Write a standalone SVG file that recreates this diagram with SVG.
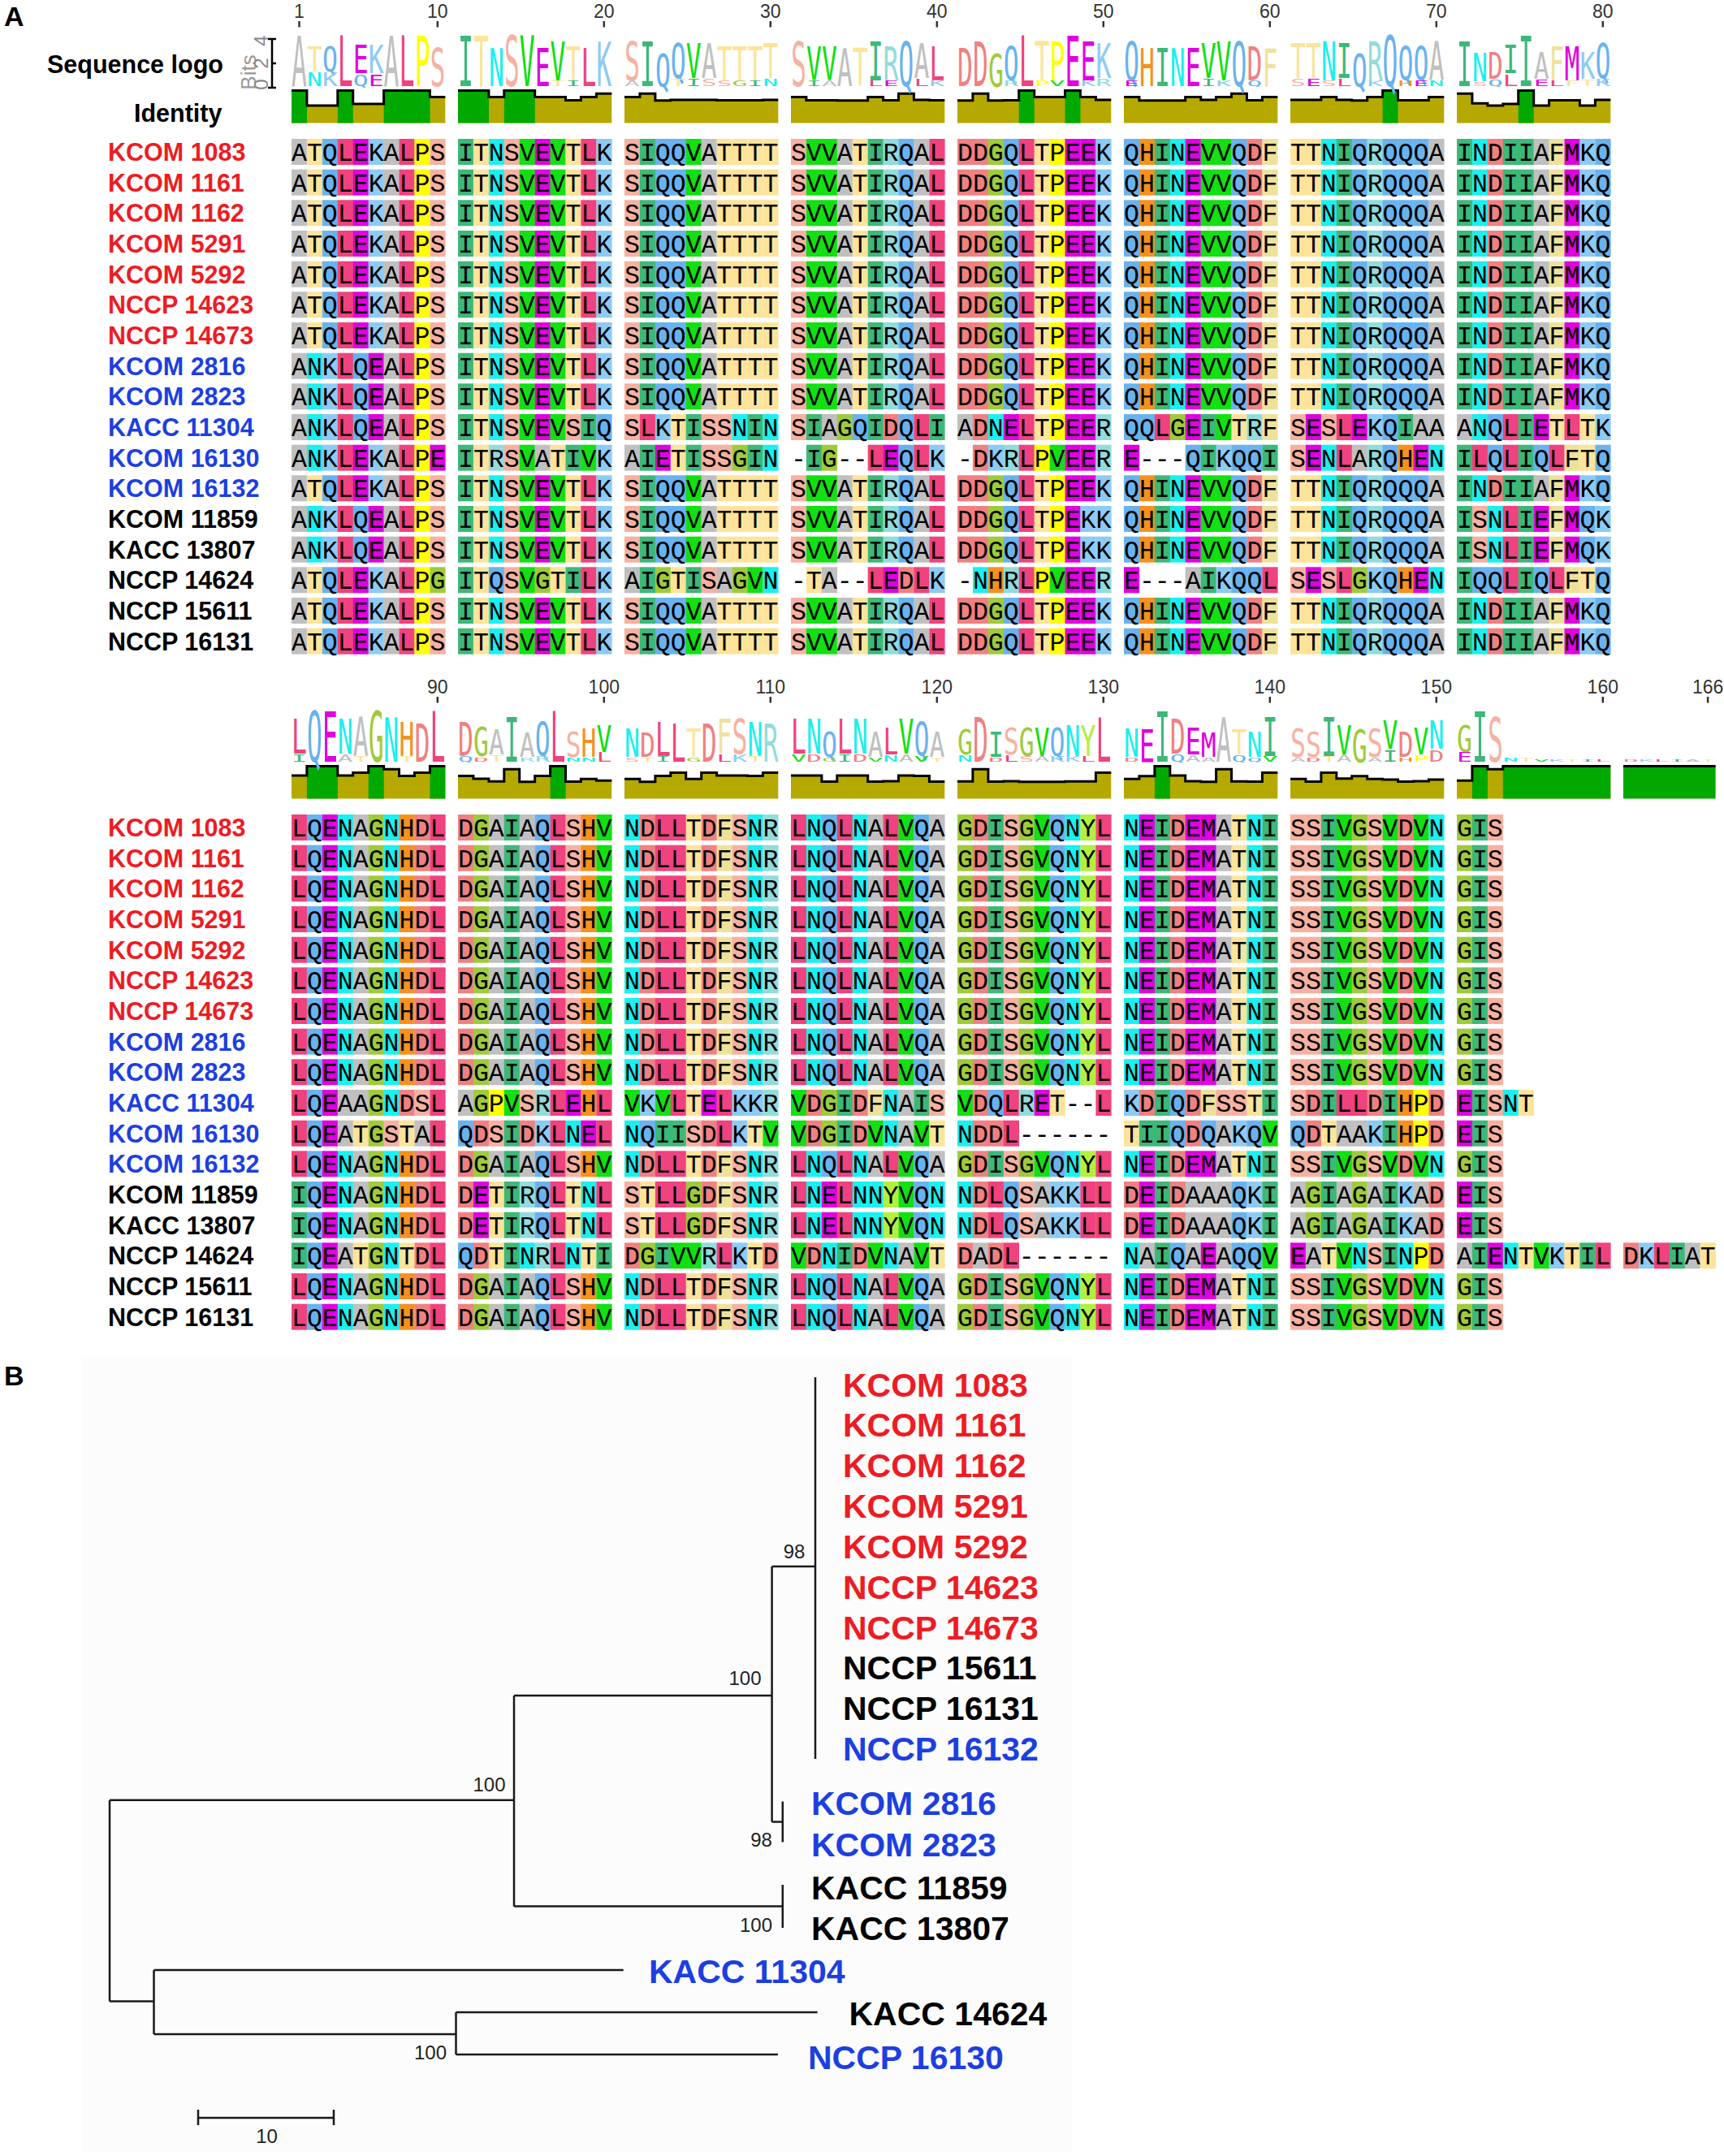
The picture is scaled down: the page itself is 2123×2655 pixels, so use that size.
<svg xmlns="http://www.w3.org/2000/svg" width="2123" height="2655" viewBox="0 0 2123 2655">
<style>
.A{fill:#c0c0c0}.T{fill:#fde49a}.Q{fill:#68b3ef}.L{fill:#f0427e}.E,.M{fill:#e000e0}.K{fill:#8ccbf5}.P{fill:#ffff00}.S{fill:#f7b1a1}.I{fill:#3cb878}.N{fill:#1af0f0}.V{fill:#12e012}.D{fill:#f18080}.G{fill:#9fcb3b}.H{fill:#f5911f}.F{fill:#eee29b}.R{fill:#91dcdc}.Y{fill:#b3f03d}
.A,.T,.Q,.L,.E,.M,.K,.P,.S,.I,.N,.V,.D,.G,.H,.F,.R,.Y{width:19.2px;height:32px}
.sq{font-family:'Liberation Mono','DejaVu Sans Mono',monospace;font-size:31.55px;fill:#000}
.lg text{font-family:'DejaVu Sans Mono',monospace;font-size:100px}
.nm{font-family:'Liberation Sans',Arial,sans-serif;font-weight:bold;font-size:30.5px}
.red{fill:#ed1c24}.blu{fill:#1c3fe0}.blk{fill:#000}
.num{font-family:'Liberation Sans',Arial,sans-serif;font-size:23px;fill:#333;text-anchor:middle}
.tk{stroke:#333;stroke-width:2.5;fill:none}
.ol{fill:#b5a900}.gr{fill:#00a800}.bk{fill:none;stroke:#000;stroke-width:3}
.tr{fill:none;stroke:#1a1a1a;stroke-width:2.5}
.tn{font-family:'Liberation Sans',Arial,sans-serif;font-weight:bold;font-size:41px}
.bs{font-family:'Liberation Sans',Arial,sans-serif;font-size:24px;fill:#222;text-anchor:middle}
.pl{font-family:'Liberation Sans',Arial,sans-serif;font-weight:bold;font-size:34px;fill:#000}
</style>
<rect width="2123" height="2655" fill="#fff"/>
<defs>
<g id="a1"><rect class="A"/><rect class="T" x="18.9"/><rect class="Q" x="37.9"/><rect class="L" x="56.8"/><rect class="E" x="75.7"/><rect class="K" x="94.7"/><rect class="A" x="113.6"/><rect class="L" x="132.5"/><rect class="P" x="151.4"/><rect class="S" x="170.4"/><text class="sq" y="27">ATQLEKALPS</text></g>
<g id="a2"><rect class="I"/><rect class="T" x="18.9"/><rect class="N" x="37.9"/><rect class="S" x="56.8"/><rect class="V" x="75.7"/><rect class="E" x="94.7"/><rect class="V" x="113.6"/><rect class="T" x="132.5"/><rect class="L" x="151.4"/><rect class="K" x="170.4"/><text class="sq" y="27">ITNSVEVTLK</text></g>
<g id="a3"><rect class="S"/><rect class="I" x="18.9"/><rect class="Q" x="37.9"/><rect class="Q" x="56.8"/><rect class="V" x="75.7"/><rect class="A" x="94.7"/><rect class="T" x="113.6"/><rect class="T" x="132.5"/><rect class="T" x="151.4"/><rect class="T" x="170.4"/><text class="sq" y="27">SIQQVATTTT</text></g>
<g id="a4"><rect class="S"/><rect class="V" x="18.9"/><rect class="V" x="37.9"/><rect class="A" x="56.8"/><rect class="T" x="75.7"/><rect class="I" x="94.7"/><rect class="R" x="113.6"/><rect class="Q" x="132.5"/><rect class="A" x="151.4"/><rect class="L" x="170.4"/><text class="sq" y="27">SVVATIRQAL</text></g>
<g id="a5"><rect class="D"/><rect class="D" x="18.9"/><rect class="G" x="37.9"/><rect class="Q" x="56.8"/><rect class="L" x="75.7"/><rect class="T" x="94.7"/><rect class="P" x="113.6"/><rect class="E" x="132.5"/><rect class="E" x="151.4"/><rect class="K" x="170.4"/><text class="sq" y="27">DDGQLTPEEK</text></g>
<g id="a6"><rect class="Q"/><rect class="H" x="18.9"/><rect class="I" x="37.9"/><rect class="N" x="56.8"/><rect class="E" x="75.7"/><rect class="V" x="94.7"/><rect class="V" x="113.6"/><rect class="Q" x="132.5"/><rect class="D" x="151.4"/><rect class="F" x="170.4"/><text class="sq" y="27">QHINEVVQDF</text></g>
<g id="a7"><rect class="T"/><rect class="T" x="18.9"/><rect class="N" x="37.9"/><rect class="I" x="56.8"/><rect class="Q" x="75.7"/><rect class="R" x="94.7"/><rect class="Q" x="113.6"/><rect class="Q" x="132.5"/><rect class="Q" x="151.4"/><rect class="A" x="170.4"/><text class="sq" y="27">TTNIQRQQQA</text></g>
<g id="a8"><rect class="I"/><rect class="N" x="18.9"/><rect class="D" x="37.9"/><rect class="I" x="56.8"/><rect class="I" x="75.7"/><rect class="A" x="94.7"/><rect class="F" x="113.6"/><rect class="M" x="132.5"/><rect class="K" x="151.4"/><rect class="Q" x="170.4"/><text class="sq" y="27">INDIIAFMKQ</text></g>
<g id="b1"><rect class="A"/><rect class="N" x="18.9"/><rect class="K" x="37.9"/><rect class="L" x="56.8"/><rect class="Q" x="75.7"/><rect class="E" x="94.7"/><rect class="A" x="113.6"/><rect class="L" x="132.5"/><rect class="P" x="151.4"/><rect class="S" x="170.4"/><text class="sq" y="27">ANKLQEALPS</text></g>
<g id="w5"><rect class="D"/><rect class="D" x="18.9"/><rect class="G" x="37.9"/><rect class="Q" x="56.8"/><rect class="L" x="75.7"/><rect class="T" x="94.7"/><rect class="P" x="113.6"/><rect class="E" x="132.5"/><rect class="K" x="151.4"/><rect class="K" x="170.4"/><text class="sq" y="27">DDGQLTPEKK</text></g>
<g id="w8"><rect class="I"/><rect class="S" x="18.9"/><rect class="N" x="37.9"/><rect class="L" x="56.8"/><rect class="I" x="75.7"/><rect class="E" x="94.7"/><rect class="F" x="113.6"/><rect class="M" x="132.5"/><rect class="Q" x="151.4"/><rect class="K" x="170.4"/><text class="sq" y="27">ISNLIEFMQK</text></g>
<g id="x2"><rect class="I"/><rect class="T" x="18.9"/><rect class="N" x="37.9"/><rect class="S" x="56.8"/><rect class="V" x="75.7"/><rect class="E" x="94.7"/><rect class="V" x="113.6"/><rect class="S" x="132.5"/><rect class="I" x="151.4"/><rect class="Q" x="170.4"/><text class="sq" y="27">ITNSVEVSIQ</text></g>
<g id="x3"><rect class="S"/><rect class="L" x="18.9"/><rect class="K" x="37.9"/><rect class="T" x="56.8"/><rect class="I" x="75.7"/><rect class="S" x="94.7"/><rect class="S" x="113.6"/><rect class="N" x="132.5"/><rect class="I" x="151.4"/><rect class="N" x="170.4"/><text class="sq" y="27">SLKTISSNIN</text></g>
<g id="x4"><rect class="S"/><rect class="I" x="18.9"/><rect class="A" x="37.9"/><rect class="G" x="56.8"/><rect class="Q" x="75.7"/><rect class="I" x="94.7"/><rect class="D" x="113.6"/><rect class="Q" x="132.5"/><rect class="L" x="151.4"/><rect class="I" x="170.4"/><text class="sq" y="27">SIAGQIDQLI</text></g>
<g id="x5"><rect class="A"/><rect class="D" x="18.9"/><rect class="N" x="37.9"/><rect class="E" x="56.8"/><rect class="L" x="75.7"/><rect class="T" x="94.7"/><rect class="P" x="113.6"/><rect class="E" x="132.5"/><rect class="E" x="151.4"/><rect class="R" x="170.4"/><text class="sq" y="27">ADNELTPEER</text></g>
<g id="x6"><rect class="Q"/><rect class="Q" x="18.9"/><rect class="L" x="37.9"/><rect class="G" x="56.8"/><rect class="E" x="75.7"/><rect class="I" x="94.7"/><rect class="V" x="113.6"/><rect class="T" x="132.5"/><rect class="R" x="151.4"/><rect class="F" x="170.4"/><text class="sq" y="27">QQLGEIVTRF</text></g>
<g id="x7"><rect class="S"/><rect class="E" x="18.9"/><rect class="S" x="37.9"/><rect class="L" x="56.8"/><rect class="E" x="75.7"/><rect class="K" x="94.7"/><rect class="Q" x="113.6"/><rect class="I" x="132.5"/><rect class="A" x="151.4"/><rect class="A" x="170.4"/><text class="sq" y="27">SESLEKQIAA</text></g>
<g id="x8"><rect class="A"/><rect class="N" x="18.9"/><rect class="Q" x="37.9"/><rect class="L" x="56.8"/><rect class="I" x="75.7"/><rect class="E" x="94.7"/><rect class="T" x="113.6"/><rect class="L" x="132.5"/><rect class="T" x="151.4"/><rect class="K" x="170.4"/><text class="sq" y="27">ANQLIETLTK</text></g>
<g id="y1"><rect class="A"/><rect class="N" x="18.9"/><rect class="K" x="37.9"/><rect class="L" x="56.8"/><rect class="E" x="75.7"/><rect class="K" x="94.7"/><rect class="A" x="113.6"/><rect class="L" x="132.5"/><rect class="P" x="151.4"/><rect class="E" x="170.4"/><text class="sq" y="27">ANKLEKALPE</text></g>
<g id="y2"><rect class="I"/><rect class="T" x="18.9"/><rect class="R" x="37.9"/><rect class="S" x="56.8"/><rect class="V" x="75.7"/><rect class="A" x="94.7"/><rect class="T" x="113.6"/><rect class="I" x="132.5"/><rect class="V" x="151.4"/><rect class="K" x="170.4"/><text class="sq" y="27">ITRSVATIVK</text></g>
<g id="y3"><rect class="A"/><rect class="I" x="18.9"/><rect class="E" x="37.9"/><rect class="T" x="56.8"/><rect class="I" x="75.7"/><rect class="S" x="94.7"/><rect class="S" x="113.6"/><rect class="G" x="132.5"/><rect class="I" x="151.4"/><rect class="N" x="170.4"/><text class="sq" y="27">AIETISSGIN</text></g>
<g id="y4"><rect class="I" x="18.9"/><rect class="G" x="37.9"/><rect class="L" x="94.7"/><rect class="E" x="113.6"/><rect class="Q" x="132.5"/><rect class="L" x="151.4"/><rect class="K" x="170.4"/><text class="sq" y="27">-IG--LEQLK</text></g>
<g id="y5"><rect class="D" x="18.9"/><rect class="K" x="37.9"/><rect class="R" x="56.8"/><rect class="L" x="75.7"/><rect class="P" x="94.7"/><rect class="V" x="113.6"/><rect class="E" x="132.5"/><rect class="E" x="151.4"/><rect class="R" x="170.4"/><text class="sq" y="27">-DKRLPVEER</text></g>
<g id="y6"><rect class="E"/><rect class="Q" x="75.7"/><rect class="I" x="94.7"/><rect class="K" x="113.6"/><rect class="Q" x="132.5"/><rect class="Q" x="151.4"/><rect class="I" x="170.4"/><text class="sq" y="27">E---QIKQQI</text></g>
<g id="y7"><rect class="S"/><rect class="E" x="18.9"/><rect class="N" x="37.9"/><rect class="L" x="56.8"/><rect class="A" x="75.7"/><rect class="R" x="94.7"/><rect class="Q" x="113.6"/><rect class="H" x="132.5"/><rect class="E" x="151.4"/><rect class="N" x="170.4"/><text class="sq" y="27">SENLARQHEN</text></g>
<g id="y8"><rect class="I"/><rect class="L" x="18.9"/><rect class="Q" x="37.9"/><rect class="L" x="56.8"/><rect class="I" x="75.7"/><rect class="Q" x="94.7"/><rect class="L" x="113.6"/><rect class="F" x="132.5"/><rect class="T" x="151.4"/><rect class="Q" x="170.4"/><text class="sq" y="27">ILQLIQLFTQ</text></g>
<g id="z1"><rect class="A"/><rect class="T" x="18.9"/><rect class="Q" x="37.9"/><rect class="L" x="56.8"/><rect class="E" x="75.7"/><rect class="K" x="94.7"/><rect class="A" x="113.6"/><rect class="L" x="132.5"/><rect class="P" x="151.4"/><rect class="G" x="170.4"/><text class="sq" y="27">ATQLEKALPG</text></g>
<g id="z2"><rect class="I"/><rect class="T" x="18.9"/><rect class="Q" x="37.9"/><rect class="S" x="56.8"/><rect class="V" x="75.7"/><rect class="G" x="94.7"/><rect class="T" x="113.6"/><rect class="I" x="132.5"/><rect class="L" x="151.4"/><rect class="K" x="170.4"/><text class="sq" y="27">ITQSVGTILK</text></g>
<g id="z3"><rect class="A"/><rect class="I" x="18.9"/><rect class="G" x="37.9"/><rect class="T" x="56.8"/><rect class="I" x="75.7"/><rect class="S" x="94.7"/><rect class="A" x="113.6"/><rect class="G" x="132.5"/><rect class="V" x="151.4"/><rect class="N" x="170.4"/><text class="sq" y="27">AIGTISAGVN</text></g>
<g id="z4"><rect class="T" x="18.9"/><rect class="A" x="37.9"/><rect class="L" x="94.7"/><rect class="E" x="113.6"/><rect class="D" x="132.5"/><rect class="L" x="151.4"/><rect class="K" x="170.4"/><text class="sq" y="27">-TA--LEDLK</text></g>
<g id="z5"><rect class="N" x="18.9"/><rect class="H" x="37.9"/><rect class="R" x="56.8"/><rect class="L" x="75.7"/><rect class="P" x="94.7"/><rect class="V" x="113.6"/><rect class="E" x="132.5"/><rect class="E" x="151.4"/><rect class="R" x="170.4"/><text class="sq" y="27">-NHRLPVEER</text></g>
<g id="z6"><rect class="E"/><rect class="A" x="75.7"/><rect class="I" x="94.7"/><rect class="K" x="113.6"/><rect class="Q" x="132.5"/><rect class="Q" x="151.4"/><rect class="L" x="170.4"/><text class="sq" y="27">E---AIKQQL</text></g>
<g id="z7"><rect class="S"/><rect class="E" x="18.9"/><rect class="S" x="37.9"/><rect class="L" x="56.8"/><rect class="G" x="75.7"/><rect class="K" x="94.7"/><rect class="Q" x="113.6"/><rect class="H" x="132.5"/><rect class="E" x="151.4"/><rect class="N" x="170.4"/><text class="sq" y="27">SESLGKQHEN</text></g>
<g id="z8"><rect class="I"/><rect class="Q" x="18.9"/><rect class="Q" x="37.9"/><rect class="L" x="56.8"/><rect class="I" x="75.7"/><rect class="Q" x="94.7"/><rect class="L" x="113.6"/><rect class="F" x="132.5"/><rect class="T" x="151.4"/><rect class="Q" x="170.4"/><text class="sq" y="27">IQQLIQLFTQ</text></g>
<g id="c1"><rect class="L"/><rect class="Q" x="18.9"/><rect class="E" x="37.9"/><rect class="N" x="56.8"/><rect class="A" x="75.7"/><rect class="G" x="94.7"/><rect class="N" x="113.6"/><rect class="H" x="132.5"/><rect class="D" x="151.4"/><rect class="L" x="170.4"/><text class="sq" y="27">LQENAGNHDL</text></g>
<g id="c2"><rect class="D"/><rect class="G" x="18.9"/><rect class="A" x="37.9"/><rect class="I" x="56.8"/><rect class="A" x="75.7"/><rect class="Q" x="94.7"/><rect class="L" x="113.6"/><rect class="S" x="132.5"/><rect class="H" x="151.4"/><rect class="V" x="170.4"/><text class="sq" y="27">DGAIAQLSHV</text></g>
<g id="c3"><rect class="N"/><rect class="D" x="18.9"/><rect class="L" x="37.9"/><rect class="L" x="56.8"/><rect class="T" x="75.7"/><rect class="D" x="94.7"/><rect class="F" x="113.6"/><rect class="S" x="132.5"/><rect class="N" x="151.4"/><rect class="R" x="170.4"/><text class="sq" y="27">NDLLTDFSNR</text></g>
<g id="c4"><rect class="L"/><rect class="N" x="18.9"/><rect class="Q" x="37.9"/><rect class="L" x="56.8"/><rect class="N" x="75.7"/><rect class="A" x="94.7"/><rect class="L" x="113.6"/><rect class="V" x="132.5"/><rect class="Q" x="151.4"/><rect class="A" x="170.4"/><text class="sq" y="27">LNQLNALVQA</text></g>
<g id="c5"><rect class="G"/><rect class="D" x="18.9"/><rect class="I" x="37.9"/><rect class="S" x="56.8"/><rect class="G" x="75.7"/><rect class="V" x="94.7"/><rect class="Q" x="113.6"/><rect class="N" x="132.5"/><rect class="Y" x="151.4"/><rect class="L" x="170.4"/><text class="sq" y="27">GDISGVQNYL</text></g>
<g id="c6"><rect class="N"/><rect class="E" x="18.9"/><rect class="I" x="37.9"/><rect class="D" x="56.8"/><rect class="E" x="75.7"/><rect class="M" x="94.7"/><rect class="A" x="113.6"/><rect class="T" x="132.5"/><rect class="N" x="151.4"/><rect class="I" x="170.4"/><text class="sq" y="27">NEIDEMATNI</text></g>
<g id="c7"><rect class="S"/><rect class="S" x="18.9"/><rect class="I" x="37.9"/><rect class="V" x="56.8"/><rect class="G" x="75.7"/><rect class="S" x="94.7"/><rect class="V" x="113.6"/><rect class="D" x="132.5"/><rect class="V" x="151.4"/><rect class="N" x="170.4"/><text class="sq" y="27">SSIVGSVDVN</text></g>
<g id="c8"><rect class="G"/><rect class="I" x="18.9"/><rect class="S" x="37.9"/><text class="sq" y="27">GIS</text></g>
<g id="p1"><rect class="L"/><rect class="Q" x="18.9"/><rect class="E" x="37.9"/><rect class="A" x="56.8"/><rect class="A" x="75.7"/><rect class="G" x="94.7"/><rect class="N" x="113.6"/><rect class="D" x="132.5"/><rect class="S" x="151.4"/><rect class="L" x="170.4"/><text class="sq" y="27">LQEAAGNDSL</text></g>
<g id="p2"><rect class="A"/><rect class="G" x="18.9"/><rect class="P" x="37.9"/><rect class="V" x="56.8"/><rect class="S" x="75.7"/><rect class="R" x="94.7"/><rect class="L" x="113.6"/><rect class="E" x="132.5"/><rect class="H" x="151.4"/><rect class="L" x="170.4"/><text class="sq" y="27">AGPVSRLEHL</text></g>
<g id="p3"><rect class="V"/><rect class="K" x="18.9"/><rect class="V" x="37.9"/><rect class="L" x="56.8"/><rect class="T" x="75.7"/><rect class="E" x="94.7"/><rect class="L" x="113.6"/><rect class="K" x="132.5"/><rect class="K" x="151.4"/><rect class="R" x="170.4"/><text class="sq" y="27">VKVLTELKKR</text></g>
<g id="p4"><rect class="V"/><rect class="D" x="18.9"/><rect class="G" x="37.9"/><rect class="I" x="56.8"/><rect class="D" x="75.7"/><rect class="F" x="94.7"/><rect class="N" x="113.6"/><rect class="A" x="132.5"/><rect class="I" x="151.4"/><rect class="S" x="170.4"/><text class="sq" y="27">VDGIDFNAIS</text></g>
<g id="p5"><rect class="V"/><rect class="D" x="18.9"/><rect class="Q" x="37.9"/><rect class="L" x="56.8"/><rect class="R" x="75.7"/><rect class="E" x="94.7"/><rect class="T" x="113.6"/><rect class="L" x="170.4"/><text class="sq" y="27">VDQLRET--L</text></g>
<g id="p6"><rect class="K"/><rect class="D" x="18.9"/><rect class="I" x="37.9"/><rect class="Q" x="56.8"/><rect class="D" x="75.7"/><rect class="F" x="94.7"/><rect class="S" x="113.6"/><rect class="S" x="132.5"/><rect class="T" x="151.4"/><rect class="I" x="170.4"/><text class="sq" y="27">KDIQDFSSTI</text></g>
<g id="p7"><rect class="S"/><rect class="D" x="18.9"/><rect class="I" x="37.9"/><rect class="L" x="56.8"/><rect class="L" x="75.7"/><rect class="D" x="94.7"/><rect class="I" x="113.6"/><rect class="H" x="132.5"/><rect class="P" x="151.4"/><rect class="D" x="170.4"/><text class="sq" y="27">SDILLDIHPD</text></g>
<g id="p8"><rect class="E"/><rect class="I" x="18.9"/><rect class="S" x="37.9"/><rect class="N" x="56.8"/><rect class="T" x="75.7"/><text class="sq" y="27">EISNT</text></g>
<g id="q1"><rect class="L"/><rect class="Q" x="18.9"/><rect class="E" x="37.9"/><rect class="A" x="56.8"/><rect class="T" x="75.7"/><rect class="G" x="94.7"/><rect class="S" x="113.6"/><rect class="T" x="132.5"/><rect class="A" x="151.4"/><rect class="L" x="170.4"/><text class="sq" y="27">LQEATGSTAL</text></g>
<g id="q2"><rect class="Q"/><rect class="D" x="18.9"/><rect class="S" x="37.9"/><rect class="I" x="56.8"/><rect class="D" x="75.7"/><rect class="K" x="94.7"/><rect class="L" x="113.6"/><rect class="N" x="132.5"/><rect class="E" x="151.4"/><rect class="L" x="170.4"/><text class="sq" y="27">QDSIDKLNEL</text></g>
<g id="q3"><rect class="N"/><rect class="Q" x="18.9"/><rect class="I" x="37.9"/><rect class="I" x="56.8"/><rect class="S" x="75.7"/><rect class="D" x="94.7"/><rect class="L" x="113.6"/><rect class="K" x="132.5"/><rect class="T" x="151.4"/><rect class="V" x="170.4"/><text class="sq" y="27">NQIISDLKTV</text></g>
<g id="q4"><rect class="V"/><rect class="D" x="18.9"/><rect class="G" x="37.9"/><rect class="I" x="56.8"/><rect class="D" x="75.7"/><rect class="V" x="94.7"/><rect class="N" x="113.6"/><rect class="A" x="132.5"/><rect class="V" x="151.4"/><rect class="T" x="170.4"/><text class="sq" y="27">VDGIDVNAVT</text></g>
<g id="q5"><rect class="N"/><rect class="D" x="18.9"/><rect class="D" x="37.9"/><rect class="L" x="56.8"/><text class="sq" y="27">NDDL------</text></g>
<g id="q6"><rect class="T"/><rect class="I" x="18.9"/><rect class="I" x="37.9"/><rect class="Q" x="56.8"/><rect class="D" x="75.7"/><rect class="Q" x="94.7"/><rect class="A" x="113.6"/><rect class="K" x="132.5"/><rect class="Q" x="151.4"/><rect class="V" x="170.4"/><text class="sq" y="27">TIIQDQAKQV</text></g>
<g id="q7"><rect class="Q"/><rect class="D" x="18.9"/><rect class="T" x="37.9"/><rect class="A" x="56.8"/><rect class="A" x="75.7"/><rect class="K" x="94.7"/><rect class="I" x="113.6"/><rect class="H" x="132.5"/><rect class="P" x="151.4"/><rect class="D" x="170.4"/><text class="sq" y="27">QDTAAKIHPD</text></g>
<g id="e8"><rect class="E"/><rect class="I" x="18.9"/><rect class="S" x="37.9"/><text class="sq" y="27">EIS</text></g>
<g id="u1"><rect class="I"/><rect class="Q" x="18.9"/><rect class="E" x="37.9"/><rect class="N" x="56.8"/><rect class="A" x="75.7"/><rect class="G" x="94.7"/><rect class="N" x="113.6"/><rect class="H" x="132.5"/><rect class="D" x="151.4"/><rect class="L" x="170.4"/><text class="sq" y="27">IQENAGNHDL</text></g>
<g id="u2"><rect class="D"/><rect class="E" x="18.9"/><rect class="T" x="37.9"/><rect class="I" x="56.8"/><rect class="R" x="75.7"/><rect class="Q" x="94.7"/><rect class="L" x="113.6"/><rect class="T" x="132.5"/><rect class="N" x="151.4"/><rect class="L" x="170.4"/><text class="sq" y="27">DETIRQLTNL</text></g>
<g id="u3"><rect class="S"/><rect class="T" x="18.9"/><rect class="L" x="37.9"/><rect class="L" x="56.8"/><rect class="G" x="75.7"/><rect class="D" x="94.7"/><rect class="F" x="113.6"/><rect class="S" x="132.5"/><rect class="N" x="151.4"/><rect class="R" x="170.4"/><text class="sq" y="27">STLLGDFSNR</text></g>
<g id="u4"><rect class="L"/><rect class="N" x="18.9"/><rect class="E" x="37.9"/><rect class="L" x="56.8"/><rect class="N" x="75.7"/><rect class="N" x="94.7"/><rect class="Y" x="113.6"/><rect class="V" x="132.5"/><rect class="Q" x="151.4"/><rect class="N" x="170.4"/><text class="sq" y="27">LNELNNYVQN</text></g>
<g id="u5"><rect class="N"/><rect class="D" x="18.9"/><rect class="L" x="37.9"/><rect class="Q" x="56.8"/><rect class="S" x="75.7"/><rect class="A" x="94.7"/><rect class="K" x="113.6"/><rect class="K" x="132.5"/><rect class="L" x="151.4"/><rect class="L" x="170.4"/><text class="sq" y="27">NDLQSAKKLL</text></g>
<g id="u6"><rect class="D"/><rect class="E" x="18.9"/><rect class="I" x="37.9"/><rect class="D" x="56.8"/><rect class="A" x="75.7"/><rect class="A" x="94.7"/><rect class="A" x="113.6"/><rect class="Q" x="132.5"/><rect class="K" x="151.4"/><rect class="I" x="170.4"/><text class="sq" y="27">DEIDAAAQKI</text></g>
<g id="u7"><rect class="A"/><rect class="G" x="18.9"/><rect class="I" x="37.9"/><rect class="A" x="56.8"/><rect class="G" x="75.7"/><rect class="A" x="94.7"/><rect class="I" x="113.6"/><rect class="K" x="132.5"/><rect class="A" x="151.4"/><rect class="D" x="170.4"/><text class="sq" y="27">AGIAGAIKAD</text></g>
<g id="t1"><rect class="I"/><rect class="Q" x="18.9"/><rect class="E" x="37.9"/><rect class="A" x="56.8"/><rect class="T" x="75.7"/><rect class="G" x="94.7"/><rect class="N" x="113.6"/><rect class="T" x="132.5"/><rect class="D" x="151.4"/><rect class="L" x="170.4"/><text class="sq" y="27">IQEATGNTDL</text></g>
<g id="t2"><rect class="Q"/><rect class="D" x="18.9"/><rect class="T" x="37.9"/><rect class="I" x="56.8"/><rect class="N" x="75.7"/><rect class="R" x="94.7"/><rect class="L" x="113.6"/><rect class="N" x="132.5"/><rect class="T" x="151.4"/><rect class="I" x="170.4"/><text class="sq" y="27">QDTINRLNTI</text></g>
<g id="t3"><rect class="D"/><rect class="G" x="18.9"/><rect class="I" x="37.9"/><rect class="V" x="56.8"/><rect class="V" x="75.7"/><rect class="R" x="94.7"/><rect class="L" x="113.6"/><rect class="K" x="132.5"/><rect class="T" x="151.4"/><rect class="D" x="170.4"/><text class="sq" y="27">DGIVVRLKTD</text></g>
<g id="t4"><rect class="V"/><rect class="D" x="18.9"/><rect class="N" x="37.9"/><rect class="I" x="56.8"/><rect class="D" x="75.7"/><rect class="V" x="94.7"/><rect class="N" x="113.6"/><rect class="A" x="132.5"/><rect class="V" x="151.4"/><rect class="T" x="170.4"/><text class="sq" y="27">VDNIDVNAVT</text></g>
<g id="t5"><rect class="D"/><rect class="A" x="18.9"/><rect class="D" x="37.9"/><rect class="L" x="56.8"/><text class="sq" y="27">DADL------</text></g>
<g id="t6"><rect class="N"/><rect class="A" x="18.9"/><rect class="I" x="37.9"/><rect class="Q" x="56.8"/><rect class="A" x="75.7"/><rect class="E" x="94.7"/><rect class="A" x="113.6"/><rect class="Q" x="132.5"/><rect class="Q" x="151.4"/><rect class="V" x="170.4"/><text class="sq" y="27">NAIQAEAQQV</text></g>
<g id="t7"><rect class="E"/><rect class="A" x="18.9"/><rect class="T" x="37.9"/><rect class="V" x="56.8"/><rect class="N" x="75.7"/><rect class="S" x="94.7"/><rect class="I" x="113.6"/><rect class="N" x="132.5"/><rect class="P" x="151.4"/><rect class="D" x="170.4"/><text class="sq" y="27">EATVNSINPD</text></g>
<g id="t8"><rect class="A"/><rect class="I" x="18.9"/><rect class="E" x="37.9"/><rect class="N" x="56.8"/><rect class="T" x="75.7"/><rect class="V" x="94.7"/><rect class="K" x="113.6"/><rect class="T" x="132.5"/><rect class="I" x="151.4"/><rect class="L" x="170.4"/><text class="sq" y="27">AIENTVKTIL</text></g>
<g id="t9"><rect class="D"/><rect class="K" x="18.9"/><rect class="L" x="37.9"/><rect class="I" x="56.8"/><rect class="A" x="75.7"/><rect class="T" x="94.7"/><text class="sq" y="27">DKLIAT</text></g>
<g id="R1"><use href="#a1"/><use href="#a2" x="205"/><use href="#a3" x="410"/><use href="#a4" x="615"/><use href="#a5" x="820"/><use href="#a6" x="1025"/><use href="#a7" x="1230"/><use href="#a8" x="1435"/></g>
<g id="V2"><use href="#b1"/><use href="#a2" x="205"/><use href="#a3" x="410"/><use href="#a4" x="615"/><use href="#a5" x="820"/><use href="#a6" x="1025"/><use href="#a7" x="1230"/><use href="#a8" x="1435"/></g>
<g id="X1"><use href="#b1"/><use href="#x2" x="205"/><use href="#x3" x="410"/><use href="#x4" x="615"/><use href="#x5" x="820"/><use href="#x6" x="1025"/><use href="#x7" x="1230"/><use href="#x8" x="1435"/></g>
<g id="Y1"><use href="#y1"/><use href="#y2" x="205"/><use href="#y3" x="410"/><use href="#y4" x="615"/><use href="#y5" x="820"/><use href="#y6" x="1025"/><use href="#y7" x="1230"/><use href="#y8" x="1435"/></g>
<g id="W1"><use href="#b1"/><use href="#a2" x="205"/><use href="#a3" x="410"/><use href="#a4" x="615"/><use href="#w5" x="820"/><use href="#a6" x="1025"/><use href="#a7" x="1230"/><use href="#w8" x="1435"/></g>
<g id="Z1"><use href="#z1"/><use href="#z2" x="205"/><use href="#z3" x="410"/><use href="#z4" x="615"/><use href="#z5" x="820"/><use href="#z6" x="1025"/><use href="#z7" x="1230"/><use href="#z8" x="1435"/></g>
<g id="R2"><use href="#c1"/><use href="#c2" x="205"/><use href="#c3" x="410"/><use href="#c4" x="615"/><use href="#c5" x="820"/><use href="#c6" x="1025"/><use href="#c7" x="1230"/><use href="#c8" x="1435"/></g>
<g id="X2"><use href="#p1"/><use href="#p2" x="205"/><use href="#p3" x="410"/><use href="#p4" x="615"/><use href="#p5" x="820"/><use href="#p6" x="1025"/><use href="#p7" x="1230"/><use href="#p8" x="1435"/></g>
<g id="Y2"><use href="#q1"/><use href="#q2" x="205"/><use href="#q3" x="410"/><use href="#q4" x="615"/><use href="#q5" x="820"/><use href="#q6" x="1025"/><use href="#q7" x="1230"/><use href="#e8" x="1435"/></g>
<g id="W2"><use href="#u1"/><use href="#u2" x="205"/><use href="#u3" x="410"/><use href="#u4" x="615"/><use href="#u5" x="820"/><use href="#u6" x="1025"/><use href="#u7" x="1230"/><use href="#e8" x="1435"/></g>
<g id="Z2"><use href="#t1"/><use href="#t2" x="205"/><use href="#t3" x="410"/><use href="#t4" x="615"/><use href="#t5" x="820"/><use href="#t6" x="1025"/><use href="#t7" x="1230"/><use href="#t8" x="1435"/><use href="#t9" x="1640"/></g>
</defs>

<g id="panelA">
<text class="pl" x="5" y="32">A</text>
<g id="header1">
<text class="nm blk" x="58" y="90">Sequence logo</text>
<text class="nm blk" x="165" y="150">Identity</text>
<text transform="translate(315,89) rotate(-90)" font-family="Liberation Sans, Arial, sans-serif" font-size="26" fill="#999" text-anchor="middle">Bits</text>
<g font-family="Liberation Sans, Arial, sans-serif" font-size="24" fill="#888" text-anchor="middle">
<text transform="translate(330,50) rotate(-90)">4</text>
<text transform="translate(330,78) rotate(-90)">2</text>
<text transform="translate(330,104) rotate(-90)">0</text>
</g>
<path d="M330 48H340M335 48V108M330 108H340M335 78H340" stroke="#000" stroke-width="2.5" fill="none"/>
<g class="num">
<text x="368.5" y="21.5">1</text><text x="538.8" y="21.5">10</text><text x="743.8" y="21.5">20</text><text x="948.8" y="21.5">30</text><text x="1153.8" y="21.5">40</text><text x="1358.8" y="21.5">50</text><text x="1563.8" y="21.5">60</text><text x="1768.8" y="21.5">70</text><text x="1973.8" y="21.5">80</text>
</g>
<path class="tk" d="M368.5 26V33.5M538.8 26V33.5M743.8 26V33.5M948.8 26V33.5M1153.8 26V33.5M1358.8 26V33.5M1563.8 26V33.5M1768.8 26V33.5M1973.8 26V33.5"/>
<g id="ident1">
<g transform="translate(359,0)"><path class="ol" d="M0 151.5V111.5H18.9V129.9H56.8V111.5H75.7V128.1H113.6V111.5H170.4V119.6H189.3V151.5Z"/><rect class="gr" x="0" y="111.5" width="19" height="40"/><rect class="gr" x="56.8" y="111.5" width="19" height="40"/><rect class="gr" x="113.6" y="111.5" width="57" height="40"/><path class="bk" d="M0 111.5H18.9V129.9H56.8V111.5H75.7V128.1H113.6V111.5H170.4V119.6H189.3"/></g>
<g transform="translate(564,0)"><path class="ol" d="M0 151.5V111.5H37.9V119.6H56.8V111.5H94.7V119.6H113.6V119.4H132.5V123.5H151.4V119.6H170.4V115.2H189.3V151.5Z"/><rect class="gr" x="0" y="111.5" width="38" height="40"/><rect class="gr" x="56.8" y="111.5" width="38" height="40"/><path class="bk" d="M0 111.5H37.9V119.6H56.8V111.5H94.7V119.6H113.6V119.4H132.5V123.5H151.4V119.6H170.4V115.2H189.3"/></g>
<g transform="translate(769,0)"><path class="ol" d="M0 151.5V119.4H18.9V115.2H37.9V123.7H56.8V122.9H113.6V123.5H170.4V122.9H189.3V151.5Z"/><path class="bk" d="M0 119.4H18.9V115.2H37.9V123.7H56.8V122.9H113.6V123.5H170.4V122.9H189.3"/></g>
<g transform="translate(974,0)"><path class="ol" d="M0 151.5V119.6H18.9V123.5H56.8V123.7H94.7V119.4H113.6V123.5H132.5V115.2H151.4V122.9H170.4V123.5H189.3V151.5Z"/><path class="bk" d="M0 119.6H18.9V123.5H56.8V123.7H94.7V119.4H113.6V123.5H132.5V115.2H151.4V122.9H170.4V123.5H189.3"/></g>
<g transform="translate(1179,0)"><path class="ol" d="M0 151.5V123.7H18.9V115.2H37.9V123.7H56.8V123.5H75.7V111.5H94.7V119.4H132.5V111.5H151.4V119.4H170.4V122.9H189.3V151.5Z"/><rect class="gr" x="75.7" y="111.5" width="19" height="40"/><rect class="gr" x="132.5" y="111.5" width="19" height="40"/><path class="bk" d="M0 123.7H18.9V115.2H37.9V123.7H56.8V123.5H75.7V111.5H94.7V119.4H132.5V111.5H151.4V119.4H170.4V122.9H189.3"/></g>
<g transform="translate(1384,0)"><path class="ol" d="M0 151.5V119.4H18.9V123.7H75.7V119.6H94.7V122.9H113.6V119.4H132.5V115.2H151.4V123.5H170.4V119.6H189.3V151.5Z"/><path class="bk" d="M0 119.4H18.9V123.7H75.7V119.6H94.7V122.9H113.6V119.4H132.5V115.2H151.4V123.5H170.4V119.6H189.3"/></g>
<g transform="translate(1589,0)"><path class="ol" d="M0 151.5V122.9H37.9V119.4H56.8V122.9H75.7V123.7H94.7V119.4H113.6V111.5H132.5V123.5H170.4V119.4H189.3V151.5Z"/><rect class="gr" x="113.6" y="111.5" width="19" height="40"/><path class="bk" d="M0 122.9H37.9V119.4H56.8V122.9H75.7V123.7H94.7V119.4H113.6V111.5H132.5V123.5H170.4V119.4H189.3"/></g>
<g transform="translate(1794,0)"><path class="ol" d="M0 151.5V115.2H18.9V127.3H37.9V129.9H56.8V128.1H75.7V111.5H94.7V129.9H113.6V123.5H151.4V129.9H170.4V122.9H189.3V151.5Z"/><rect class="gr" x="75.7" y="111.5" width="19" height="40"/><path class="bk" d="M0 115.2H18.9V127.3H37.9V129.9H56.8V128.1H75.7V111.5H94.7V129.9H113.6V123.5H151.4V129.9H170.4V122.9H189.3"/></g>
</g>
<g id="logo1" class="lg">
<g transform="translate(359,0)">
<text class="A" transform="matrix(.3145 0 0 .853 0 105.5)">A</text>
<text class="T" transform="matrix(.3145 0 0 .432 18.9 87.8)">T</text><text class="N" transform="matrix(.3145 0 0 .236 18.9 105.5)">N</text>
<text class="Q" transform="matrix(.3145 0 0 .432 37.9 87.8)">Q</text><text class="K" transform="matrix(.3145 0 0 .236 37.9 105.5)">K</text>
<text class="L" transform="matrix(.3145 0 0 .853 56.8 105.5)">L</text>
<text class="E" transform="matrix(.3145 0 0 .48 75.7 90.4)">E</text><text class="Q" transform="matrix(.3145 0 0 .2 75.7 105.5)">Q</text>
<text class="K" transform="matrix(.3145 0 0 .48 94.7 90.4)">K</text><text class="E" transform="matrix(.3145 0 0 .2 94.7 105.5)">E</text>
<text class="A" transform="matrix(.3145 0 0 .853 113.6 105.5)">A</text>
<text class="L" transform="matrix(.3145 0 0 .853 132.5 105.5)">L</text>
<text class="P" transform="matrix(.3145 0 0 .853 151.4 105.5)">P</text>
<text class="S" transform="matrix(.3145 0 0 .641 170.4 105.5)">S</text>
</g>
<g transform="translate(564,0)">
<text class="I" transform="matrix(.3145 0 0 .853 0 105.5)">I</text>
<text class="T" transform="matrix(.3145 0 0 .853 18.9 105.5)">T</text>
<text class="N" transform="matrix(.3145 0 0 .641 37.9 105.5)">N</text>
<text class="S" transform="matrix(.3145 0 0 .853 56.8 105.5)">S</text>
<text class="V" transform="matrix(.3145 0 0 .853 75.7 105.5)">V</text>
<text class="E" transform="matrix(.3145 0 0 .641 94.7 105.5)">E</text>
<text class="V" transform="matrix(.3145 0 0 .663 113.6 98.6)">V</text><text class="T" transform="matrix(.3145 0 0 .088 113.6 105.5)">T</text>
<text class="T" transform="matrix(.3145 0 0 .568 132.5 99.1)">T</text><text class="I" transform="matrix(.3145 0 0 .081 132.5 105.5)">I</text>
<text class="L" transform="matrix(.3145 0 0 .641 151.4 105.5)">L</text>
<text class="K" transform="matrix(.3145 0 0 .743 170.4 105.5)">K</text>
</g>
<g transform="translate(769,0)">
<text class="S" transform="matrix(.3145 0 0 .663 0 98.6)">S</text><text class="A" transform="matrix(.3145 0 0 .088 0 105.5)">A</text>
<text class="I" transform="matrix(.3145 0 0 .743 18.9 105.5)">I</text>
<text class="Q" transform="matrix(.3145 0 0 .549 37.9 105.5)">Q</text>
<text class="Q" transform="matrix(.3145 0 0 .594 56.8 95.7)">Q</text><text class="T" transform="matrix(.3145 0 0 .128 56.8 105.5)">T</text>
<text class="V" transform="matrix(.3145 0 0 .594 75.7 95.7)">V</text><text class="I" transform="matrix(.3145 0 0 .128 75.7 105.5)">I</text>
<text class="A" transform="matrix(.3145 0 0 .594 94.7 95.7)">A</text><text class="S" transform="matrix(.3145 0 0 .128 94.7 105.5)">S</text>
<text class="T" transform="matrix(.3145 0 0 .568 113.6 99.1)">T</text><text class="S" transform="matrix(.3145 0 0 .081 113.6 105.5)">S</text>
<text class="T" transform="matrix(.3145 0 0 .568 132.5 99.1)">T</text><text class="G" transform="matrix(.3145 0 0 .081 132.5 105.5)">G</text>
<text class="T" transform="matrix(.3145 0 0 .568 151.4 99.1)">T</text><text class="I" transform="matrix(.3145 0 0 .081 151.4 105.5)">I</text>
<text class="T" transform="matrix(.3145 0 0 .594 170.4 95.7)">T</text><text class="N" transform="matrix(.3145 0 0 .128 170.4 105.5)">N</text>
</g>
<g transform="translate(974,0)">
<text class="S" transform="matrix(.3145 0 0 .753 0 105.5)">S</text>
<text class="V" transform="matrix(.3145 0 0 .568 18.9 99.1)">V</text><text class="I" transform="matrix(.3145 0 0 .081 18.9 105.5)">I</text>
<text class="V" transform="matrix(.3145 0 0 .568 37.9 99.1)">V</text><text class="A" transform="matrix(.3145 0 0 .081 37.9 105.5)">A</text>
<text class="A" transform="matrix(.3145 0 0 .646 56.8 105.5)">A</text>
<text class="T" transform="matrix(.3145 0 0 .646 75.7 105.5)">T</text>
<text class="I" transform="matrix(.3145 0 0 .663 94.7 98.6)">I</text><text class="L" transform="matrix(.3145 0 0 .088 94.7 105.5)">L</text>
<text class="R" transform="matrix(.3145 0 0 .568 113.6 99.1)">R</text><text class="E" transform="matrix(.3145 0 0 .081 113.6 105.5)">E</text>
<text class="Q" transform="matrix(.3145 0 0 .743 132.5 105.5)">Q</text>
<text class="A" transform="matrix(.3145 0 0 .594 151.4 95.7)">A</text><text class="L" transform="matrix(.3145 0 0 .128 151.4 105.5)">L</text>
<text class="L" transform="matrix(.3145 0 0 .568 170.4 99.1)">L</text><text class="K" transform="matrix(.3145 0 0 .081 170.4 105.5)">K</text>
</g>
<g transform="translate(1179,0)">
<text class="D" transform="matrix(.3145 0 0 .646 0 105.5)">D</text>
<text class="D" transform="matrix(.3145 0 0 .743 18.9 105.5)">D</text>
<text class="G" transform="matrix(.3145 0 0 .549 37.9 105.5)">G</text>
<text class="Q" transform="matrix(.3145 0 0 .568 56.8 99.1)">Q</text><text class="R" transform="matrix(.3145 0 0 .081 56.8 105.5)">R</text>
<text class="L" transform="matrix(.3145 0 0 .853 75.7 105.5)">L</text>
<text class="T" transform="matrix(.3145 0 0 .663 94.7 98.6)">T</text><text class="P" transform="matrix(.3145 0 0 .088 94.7 105.5)">P</text>
<text class="P" transform="matrix(.3145 0 0 .663 113.6 98.6)">P</text><text class="V" transform="matrix(.3145 0 0 .088 113.6 105.5)">V</text>
<text class="E" transform="matrix(.3145 0 0 .853 132.5 105.5)">E</text>
<text class="E" transform="matrix(.3145 0 0 .663 151.4 98.6)">E</text><text class="K" transform="matrix(.3145 0 0 .088 151.4 105.5)">K</text>
<text class="K" transform="matrix(.3145 0 0 .594 170.4 95.7)">K</text><text class="R" transform="matrix(.3145 0 0 .128 170.4 105.5)">R</text>
</g>
<g transform="translate(1384,0)">
<text class="Q" transform="matrix(.3145 0 0 .663 0 98.6)">Q</text><text class="E" transform="matrix(.3145 0 0 .088 0 105.5)">E</text>
<text class="H" transform="matrix(.3145 0 0 .646 18.9 105.5)">H</text>
<text class="I" transform="matrix(.3145 0 0 .646 37.9 105.5)">I</text>
<text class="N" transform="matrix(.3145 0 0 .646 56.8 105.5)">N</text>
<text class="E" transform="matrix(.3145 0 0 .641 75.7 105.5)">E</text>
<text class="V" transform="matrix(.3145 0 0 .594 94.7 95.7)">V</text><text class="I" transform="matrix(.3145 0 0 .128 94.7 105.5)">I</text>
<text class="V" transform="matrix(.3145 0 0 .663 113.6 98.6)">V</text><text class="K" transform="matrix(.3145 0 0 .088 113.6 105.5)">K</text>
<text class="Q" transform="matrix(.3145 0 0 .743 132.5 105.5)">Q</text>
<text class="D" transform="matrix(.3145 0 0 .568 151.4 99.1)">D</text><text class="Q" transform="matrix(.3145 0 0 .081 151.4 105.5)">Q</text>
<text class="F" transform="matrix(.3145 0 0 .641 170.4 105.5)">F</text>
</g>
<g transform="translate(1589,0)">
<text class="T" transform="matrix(.3145 0 0 .594 0 95.7)">T</text><text class="S" transform="matrix(.3145 0 0 .128 0 105.5)">S</text>
<text class="T" transform="matrix(.3145 0 0 .594 18.9 95.7)">T</text><text class="E" transform="matrix(.3145 0 0 .128 18.9 105.5)">E</text>
<text class="N" transform="matrix(.3145 0 0 .663 37.9 98.6)">N</text><text class="S" transform="matrix(.3145 0 0 .088 37.9 105.5)">S</text>
<text class="I" transform="matrix(.3145 0 0 .594 56.8 95.7)">I</text><text class="L" transform="matrix(.3145 0 0 .128 56.8 105.5)">L</text>
<text class="Q" transform="matrix(.3145 0 0 .549 75.7 105.5)">Q</text>
<text class="R" transform="matrix(.3145 0 0 .663 94.7 98.6)">R</text><text class="K" transform="matrix(.3145 0 0 .088 94.7 105.5)">K</text>
<text class="Q" transform="matrix(.3145 0 0 .853 113.6 105.5)">Q</text>
<text class="Q" transform="matrix(.3145 0 0 .568 132.5 99.1)">Q</text><text class="H" transform="matrix(.3145 0 0 .081 132.5 105.5)">H</text>
<text class="Q" transform="matrix(.3145 0 0 .568 151.4 99.1)">Q</text><text class="E" transform="matrix(.3145 0 0 .081 151.4 105.5)">E</text>
<text class="A" transform="matrix(.3145 0 0 .663 170.4 98.6)">A</text><text class="N" transform="matrix(.3145 0 0 .088 170.4 105.5)">N</text>
</g>
<g transform="translate(1794,0)">
<text class="I" transform="matrix(.3145 0 0 .743 0 105.5)">I</text>
<text class="N" transform="matrix(.3145 0 0 .48 18.9 99.6)">N</text><text class="S" transform="matrix(.3145 0 0 .074 18.9 105.5)">S</text>
<text class="D" transform="matrix(.3145 0 0 .44 37.9 97)">D</text><text class="Q" transform="matrix(.3145 0 0 .11 37.9 105.5)">Q</text>
<text class="I" transform="matrix(.3145 0 0 .48 56.8 90.4)">I</text><text class="L" transform="matrix(.3145 0 0 .2 56.8 105.5)">L</text>
<text class="I" transform="matrix(.3145 0 0 .853 75.7 105.5)">I</text>
<text class="A" transform="matrix(.3145 0 0 .44 94.7 97)">A</text><text class="E" transform="matrix(.3145 0 0 .11 94.7 105.5)">E</text>
<text class="F" transform="matrix(.3145 0 0 .568 113.6 99.1)">F</text><text class="L" transform="matrix(.3145 0 0 .081 113.6 105.5)">L</text>
<text class="M" transform="matrix(.3145 0 0 .568 132.5 99.1)">M</text><text class="F" transform="matrix(.3145 0 0 .081 132.5 105.5)">F</text>
<text class="K" transform="matrix(.3145 0 0 .44 151.4 97)">K</text><text class="T" transform="matrix(.3145 0 0 .11 151.4 105.5)">T</text>
<text class="Q" transform="matrix(.3145 0 0 .594 170.4 95.7)">Q</text><text class="K" transform="matrix(.3145 0 0 .128 170.4 105.5)">K</text>
</g>
</g>
</g>
<g id="block1">
<g id="r1-0"><text class="nm red" x="133" y="198">KCOM 1083</text><use href="#R1" x="359" y="171"/></g>
<g id="r1-1"><text class="nm red" x="133" y="235.7">KCOM 1161</text><use href="#R1" x="359" y="208.7"/></g>
<g id="r1-2"><text class="nm red" x="133" y="273.3">KCOM 1162</text><use href="#R1" x="359" y="246.3"/></g>
<g id="r1-3"><text class="nm red" x="133" y="311">KCOM 5291</text><use href="#R1" x="359" y="284"/></g>
<g id="r1-4"><text class="nm red" x="133" y="348.7">KCOM 5292</text><use href="#R1" x="359" y="321.7"/></g>
<g id="r1-5"><text class="nm red" x="133" y="386.3">NCCP 14623</text><use href="#R1" x="359" y="359.3"/></g>
<g id="r1-6"><text class="nm red" x="133" y="424">NCCP 14673</text><use href="#R1" x="359" y="397"/></g>
<g id="r1-7"><text class="nm blu" x="133" y="461.7">KCOM 2816</text><use href="#V2" x="359" y="434.7"/></g>
<g id="r1-8"><text class="nm blu" x="133" y="499.3">KCOM 2823</text><use href="#V2" x="359" y="472.3"/></g>
<g id="r1-9"><text class="nm blu" x="133" y="537">KACC 11304</text><use href="#X1" x="359" y="510"/></g>
<g id="r1-10"><text class="nm blu" x="133" y="574.7">KCOM 16130</text><use href="#Y1" x="359" y="547.7"/></g>
<g id="r1-11"><text class="nm blu" x="133" y="612.3">KCOM 16132</text><use href="#R1" x="359" y="585.3"/></g>
<g id="r1-12"><text class="nm blk" x="133" y="650">KCOM 11859</text><use href="#W1" x="359" y="623"/></g>
<g id="r1-13"><text class="nm blk" x="133" y="687.7">KACC 13807</text><use href="#W1" x="359" y="660.7"/></g>
<g id="r1-14"><text class="nm blk" x="133" y="725.3">NCCP 14624</text><use href="#Z1" x="359" y="698.3"/></g>
<g id="r1-15"><text class="nm blk" x="133" y="763">NCCP 15611</text><use href="#R1" x="359" y="736"/></g>
<g id="r1-16"><text class="nm blk" x="133" y="800.7">NCCP 16131</text><use href="#R1" x="359" y="773.7"/></g>
</g>

<g id="header2" transform="translate(0,832)">
<g class="num">
<text x="538.8" y="21.5">90</text><text x="743.8" y="21.5">100</text><text x="948.8" y="21.5">110</text><text x="1153.8" y="21.5">120</text><text x="1358.8" y="21.5">130</text><text x="1563.8" y="21.5">140</text><text x="1768.8" y="21.5">150</text><text x="1973.8" y="21.5">160</text><text x="2103.1" y="21.5">166</text>
</g>
<path class="tk" d="M538.8 26V33.5M743.8 26V33.5M948.8 26V33.5M1153.8 26V33.5M1358.8 26V33.5M1563.8 26V33.5M1768.8 26V33.5M1973.8 26V33.5M2103.1 26V33.5"/>
<g id="ident2">
<g transform="translate(359,0)"><path class="ol" d="M0 151.5V122.9H18.9V111.5H56.8V122.9H75.7V119.4H94.7V111.5H113.6V115.2H132.5V123.5H151.4V119.6H170.4V111.5H189.3V151.5Z"/><rect class="gr" x="18.9" y="111.5" width="38" height="40"/><rect class="gr" x="94.7" y="111.5" width="19" height="40"/><rect class="gr" x="170.4" y="111.5" width="19" height="40"/><path class="bk" d="M0 122.9H18.9V111.5H56.8V122.9H75.7V119.4H94.7V111.5H113.6V115.2H132.5V123.5H151.4V119.6H170.4V111.5H189.3"/></g>
<g transform="translate(564,0)"><path class="ol" d="M0 151.5V123.5H18.9V127H37.9V130.2H56.8V115.2H75.7V130.8H94.7V123.5H113.6V111.5H132.5V130.5H151.4V127.3H170.4V129.3H189.3V151.5Z"/><rect class="gr" x="113.6" y="111.5" width="19" height="40"/><path class="bk" d="M0 123.5H18.9V127H37.9V130.2H56.8V115.2H75.7V130.8H94.7V123.5H113.6V111.5H132.5V130.5H151.4V127.3H170.4V129.3H189.3"/></g>
<g transform="translate(769,0)"><path class="ol" d="M0 151.5V127.3H18.9V130.8H37.9V123.5H56.8V119.6H75.7V127.3H94.7V119.6H113.6V122.9H151.4V123.5H170.4V119.6H189.3V151.5Z"/><path class="bk" d="M0 127.3H18.9V130.8H37.9V123.5H56.8V119.6H75.7V127.3H94.7V119.6H113.6V122.9H151.4V123.5H170.4V119.6H189.3"/></g>
<g transform="translate(974,0)"><path class="ol" d="M0 151.5V122.9H37.9V130.5H56.8V122.9H94.7V130.5H113.6V129.9H132.5V122.9H151.4V123.5H170.4V130.5H189.3V151.5Z"/><path class="bk" d="M0 122.9H37.9V130.5H56.8V122.9H94.7V130.5H113.6V129.9H132.5V122.9H151.4V123.5H170.4V130.5H189.3"/></g>
<g transform="translate(1179,0)"><path class="ol" d="M0 151.5V130.2H18.9V115.2H37.9V130.5H56.8V129.9H75.7V130.7H132.5V130.3H170.4V119.6H189.3V151.5Z"/><path class="bk" d="M0 130.2H18.9V115.2H37.9V130.5H56.8V129.9H75.7V130.7H132.5V130.3H170.4V119.6H189.3"/></g>
<g transform="translate(1384,0)"><path class="ol" d="M0 151.5V127.3H18.9V123.7H37.9V111.5H56.8V122.9H75.7V129.9H94.7V130.8H113.6V115.2H132.5V130.2H151.4V130.5H170.4V119.4H189.3V151.5Z"/><rect class="gr" x="37.9" y="111.5" width="19" height="40"/><path class="bk" d="M0 127.3H18.9V123.7H37.9V111.5H56.8V122.9H75.7V129.9H94.7V130.8H113.6V115.2H132.5V130.2H151.4V130.5H170.4V119.4H189.3"/></g>
<g transform="translate(1589,0)"><path class="ol" d="M0 151.5V127.3H18.9V130.5H37.9V119.4H56.8V126.7H75.7V123.7H94.7V127.3H113.6V128.1H132.5V130.5H151.4V129.9H170.4V128.1H189.3V151.5Z"/><path class="bk" d="M0 127.3H18.9V130.5H37.9V119.4H56.8V126.7H75.7V123.7H94.7V127.3H113.6V128.1H132.5V130.5H151.4V129.9H170.4V128.1H189.3"/></g>
<g transform="translate(1794,0)"><path class="ol" d="M0 151.5V129.3H18.9V111.5H37.9V115.2H56.8V111.5H189.3V151.5Z"/><rect class="gr" x="18.9" y="111.5" width="19" height="40"/><rect class="gr" x="56.8" y="111.5" width="132.5" height="40"/><path class="bk" d="M0 129.3H18.9V111.5H37.9V115.2H56.8V111.5H189.3"/></g>
<g transform="translate(1999,0)"><rect class="gr" x="0" y="111.5" width="113.6" height="40"/><path class="bk" d="M0 111.5H113.6"/></g>
</g>
<g id="logo2" class="lg">
<g transform="translate(359,0)">
<text class="L" transform="matrix(.3145 0 0 .594 0 95.7)">L</text><text class="I" transform="matrix(.3145 0 0 .128 0 105.5)">I</text>
<text class="Q" transform="matrix(.3145 0 0 .853 18.9 105.5)">Q</text>
<text class="E" transform="matrix(.3145 0 0 .853 37.9 105.5)">E</text>
<text class="N" transform="matrix(.3145 0 0 .594 56.8 95.7)">N</text><text class="A" transform="matrix(.3145 0 0 .128 56.8 105.5)">A</text>
<text class="A" transform="matrix(.3145 0 0 .663 75.7 98.6)">A</text><text class="T" transform="matrix(.3145 0 0 .088 75.7 105.5)">T</text>
<text class="G" transform="matrix(.3145 0 0 .853 94.7 105.5)">G</text>
<text class="N" transform="matrix(.3145 0 0 .743 113.6 105.5)">N</text>
<text class="H" transform="matrix(.3145 0 0 .568 132.5 99.1)">H</text><text class="T" transform="matrix(.3145 0 0 .081 132.5 105.5)">T</text>
<text class="D" transform="matrix(.3145 0 0 .641 151.4 105.5)">D</text>
<text class="L" transform="matrix(.3145 0 0 .853 170.4 105.5)">L</text>
</g>
<g transform="translate(564,0)">
<text class="D" transform="matrix(.3145 0 0 .568 0 99.1)">D</text><text class="Q" transform="matrix(.3145 0 0 .081 0 105.5)">Q</text>
<text class="G" transform="matrix(.3145 0 0 .499 18.9 99.4)">G</text><text class="D" transform="matrix(.3145 0 0 .077 18.9 105.5)">D</text>
<text class="A" transform="matrix(.3145 0 0 .424 37.9 97.3)">A</text><text class="T" transform="matrix(.3145 0 0 .106 37.9 105.5)">T</text>
<text class="I" transform="matrix(.3145 0 0 .743 56.8 105.5)">I</text>
<text class="A" transform="matrix(.3145 0 0 .402 75.7 100.1)">A</text><text class="R" transform="matrix(.3145 0 0 .067 75.7 105.5)">R</text>
<text class="Q" transform="matrix(.3145 0 0 .568 94.7 99.1)">Q</text><text class="R" transform="matrix(.3145 0 0 .081 94.7 105.5)">R</text>
<text class="L" transform="matrix(.3145 0 0 .853 113.6 105.5)">L</text>
<text class="S" transform="matrix(.3145 0 0 .418 132.5 99.9)">S</text><text class="N" transform="matrix(.3145 0 0 .07 132.5 105.5)">N</text>
<text class="H" transform="matrix(.3145 0 0 .48 151.4 99.6)">H</text><text class="N" transform="matrix(.3145 0 0 .074 151.4 105.5)">N</text>
<text class="V" transform="matrix(.3145 0 0 .451 170.4 94.1)">V</text><text class="L" transform="matrix(.3145 0 0 .15 170.4 105.5)">L</text>
</g>
<g transform="translate(769,0)">
<text class="N" transform="matrix(.3145 0 0 .48 0 99.6)">N</text><text class="S" transform="matrix(.3145 0 0 .074 0 105.5)">S</text>
<text class="D" transform="matrix(.3145 0 0 .402 18.9 100.1)">D</text><text class="T" transform="matrix(.3145 0 0 .067 18.9 105.5)">T</text>
<text class="L" transform="matrix(.3145 0 0 .568 37.9 99.1)">L</text><text class="I" transform="matrix(.3145 0 0 .081 37.9 105.5)">I</text>
<text class="L" transform="matrix(.3145 0 0 .641 56.8 105.5)">L</text>
<text class="T" transform="matrix(.3145 0 0 .48 75.7 99.6)">T</text><text class="G" transform="matrix(.3145 0 0 .074 75.7 105.5)">G</text>
<text class="D" transform="matrix(.3145 0 0 .641 94.7 105.5)">D</text>
<text class="F" transform="matrix(.3145 0 0 .594 113.6 95.7)">F</text><text class="L" transform="matrix(.3145 0 0 .128 113.6 105.5)">L</text>
<text class="S" transform="matrix(.3145 0 0 .594 132.5 95.7)">S</text><text class="K" transform="matrix(.3145 0 0 .128 132.5 105.5)">K</text>
<text class="N" transform="matrix(.3145 0 0 .568 151.4 99.1)">N</text><text class="T" transform="matrix(.3145 0 0 .081 151.4 105.5)">T</text>
<text class="R" transform="matrix(.3145 0 0 .641 170.4 105.5)">R</text>
</g>
<g transform="translate(974,0)">
<text class="L" transform="matrix(.3145 0 0 .594 0 95.7)">L</text><text class="V" transform="matrix(.3145 0 0 .128 0 105.5)">V</text>
<text class="N" transform="matrix(.3145 0 0 .594 18.9 95.7)">N</text><text class="D" transform="matrix(.3145 0 0 .128 18.9 105.5)">D</text>
<text class="Q" transform="matrix(.3145 0 0 .418 37.9 99.9)">Q</text><text class="G" transform="matrix(.3145 0 0 .07 37.9 105.5)">G</text>
<text class="L" transform="matrix(.3145 0 0 .594 56.8 95.7)">L</text><text class="I" transform="matrix(.3145 0 0 .128 56.8 105.5)">I</text>
<text class="N" transform="matrix(.3145 0 0 .594 75.7 95.7)">N</text><text class="D" transform="matrix(.3145 0 0 .128 75.7 105.5)">D</text>
<text class="A" transform="matrix(.3145 0 0 .418 94.7 99.9)">A</text><text class="V" transform="matrix(.3145 0 0 .07 94.7 105.5)">V</text>
<text class="L" transform="matrix(.3145 0 0 .44 113.6 97)">L</text><text class="N" transform="matrix(.3145 0 0 .11 113.6 105.5)">N</text>
<text class="V" transform="matrix(.3145 0 0 .594 132.5 95.7)">V</text><text class="A" transform="matrix(.3145 0 0 .128 132.5 105.5)">A</text>
<text class="Q" transform="matrix(.3145 0 0 .568 151.4 99.1)">Q</text><text class="V" transform="matrix(.3145 0 0 .081 151.4 105.5)">V</text>
<text class="A" transform="matrix(.3145 0 0 .418 170.4 99.9)">A</text><text class="T" transform="matrix(.3145 0 0 .07 170.4 105.5)">T</text>
</g>
<g transform="translate(1179,0)">
<text class="G" transform="matrix(.3145 0 0 .424 0 97.3)">G</text><text class="N" transform="matrix(.3145 0 0 .106 0 105.5)">N</text>
<text class="D" transform="matrix(.3145 0 0 .743 18.9 105.5)">D</text>
<text class="I" transform="matrix(.3145 0 0 .418 37.9 99.9)">I</text><text class="D" transform="matrix(.3145 0 0 .07 37.9 105.5)">D</text>
<text class="S" transform="matrix(.3145 0 0 .44 56.8 97)">S</text><text class="L" transform="matrix(.3145 0 0 .11 56.8 105.5)">L</text>
<text class="G" transform="matrix(.3145 0 0 .476 75.7 99.2)">G</text><text class="S" transform="matrix(.3145 0 0 .08 75.7 105.5)">S</text>
<text class="V" transform="matrix(.3145 0 0 .476 94.7 99.2)">V</text><text class="A" transform="matrix(.3145 0 0 .08 94.7 105.5)">A</text>
<text class="Q" transform="matrix(.3145 0 0 .476 113.6 99.2)">Q</text><text class="K" transform="matrix(.3145 0 0 .08 113.6 105.5)">K</text>
<text class="N" transform="matrix(.3145 0 0 .52 132.5 98.7)">N</text><text class="K" transform="matrix(.3145 0 0 .086 132.5 105.5)">K</text>
<text class="Y" transform="matrix(.3145 0 0 .52 151.4 98.7)">Y</text><text class="L" transform="matrix(.3145 0 0 .086 151.4 105.5)">L</text>
<text class="L" transform="matrix(.3145 0 0 .753 170.4 105.5)">L</text>
</g>
<g transform="translate(1384,0)">
<text class="N" transform="matrix(.3145 0 0 .48 0 99.6)">N</text><text class="D" transform="matrix(.3145 0 0 .074 0 105.5)">D</text>
<text class="E" transform="matrix(.3145 0 0 .549 18.9 105.5)">E</text>
<text class="I" transform="matrix(.3145 0 0 .853 37.9 105.5)">I</text>
<text class="D" transform="matrix(.3145 0 0 .594 56.8 95.7)">D</text><text class="Q" transform="matrix(.3145 0 0 .128 56.8 105.5)">Q</text>
<text class="E" transform="matrix(.3145 0 0 .44 75.7 97)">E</text><text class="A" transform="matrix(.3145 0 0 .11 75.7 105.5)">A</text>
<text class="M" transform="matrix(.3145 0 0 .402 94.7 100.1)">M</text><text class="A" transform="matrix(.3145 0 0 .067 94.7 105.5)">A</text>
<text class="A" transform="matrix(.3145 0 0 .743 113.6 105.5)">A</text>
<text class="T" transform="matrix(.3145 0 0 .424 132.5 97.3)">T</text><text class="Q" transform="matrix(.3145 0 0 .106 132.5 105.5)">Q</text>
<text class="N" transform="matrix(.3145 0 0 .418 151.4 99.9)">N</text><text class="Q" transform="matrix(.3145 0 0 .07 151.4 105.5)">Q</text>
<text class="I" transform="matrix(.3145 0 0 .663 170.4 98.6)">I</text><text class="V" transform="matrix(.3145 0 0 .088 170.4 105.5)">V</text>
</g>
<g transform="translate(1589,0)">
<text class="S" transform="matrix(.3145 0 0 .48 0 99.6)">S</text><text class="A" transform="matrix(.3145 0 0 .074 0 105.5)">A</text>
<text class="S" transform="matrix(.3145 0 0 .418 18.9 99.9)">S</text><text class="D" transform="matrix(.3145 0 0 .07 18.9 105.5)">D</text>
<text class="I" transform="matrix(.3145 0 0 .663 37.9 98.6)">I</text><text class="T" transform="matrix(.3145 0 0 .088 37.9 105.5)">T</text>
<text class="V" transform="matrix(.3145 0 0 .505 56.8 96.5)">V</text><text class="A" transform="matrix(.3145 0 0 .117 56.8 105.5)">A</text>
<text class="G" transform="matrix(.3145 0 0 .549 75.7 105.5)">G</text>
<text class="S" transform="matrix(.3145 0 0 .48 94.7 99.6)">S</text><text class="A" transform="matrix(.3145 0 0 .074 94.7 105.5)">A</text>
<text class="V" transform="matrix(.3145 0 0 .48 113.6 90.4)">V</text><text class="I" transform="matrix(.3145 0 0 .2 113.6 105.5)">I</text>
<text class="D" transform="matrix(.3145 0 0 .418 132.5 99.9)">D</text><text class="H" transform="matrix(.3145 0 0 .07 132.5 105.5)">H</text>
<text class="V" transform="matrix(.3145 0 0 .44 151.4 97)">V</text><text class="P" transform="matrix(.3145 0 0 .11 151.4 105.5)">P</text>
<text class="N" transform="matrix(.3145 0 0 .48 170.4 90.4)">N</text><text class="D" transform="matrix(.3145 0 0 .2 170.4 105.5)">D</text>
</g>
<g transform="translate(1794,0)">
<text class="G" transform="matrix(.3145 0 0 .451 0 94.1)">G</text><text class="E" transform="matrix(.3145 0 0 .15 0 105.5)">E</text>
<text class="I" transform="matrix(.3145 0 0 .853 18.9 105.5)">I</text>
<text class="S" transform="matrix(.3145 0 0 .743 37.9 105.5)">S</text>
<text class="N" transform="matrix(.3145 0 0 .069 56.8 105.5)">N</text>
<text class="T" transform="matrix(.3145 0 0 .069 75.7 105.5)">T</text>
<text class="V" transform="matrix(.3145 0 0 .041 94.7 105.5)">V</text>
<text class="K" transform="matrix(.3145 0 0 .041 113.6 105.5)">K</text>
<text class="T" transform="matrix(.3145 0 0 .041 132.5 105.5)">T</text>
<text class="I" transform="matrix(.3145 0 0 .041 151.4 105.5)">I</text>
<text class="L" transform="matrix(.3145 0 0 .041 170.4 105.5)">L</text>
</g>
<g transform="translate(1999,0)">
<text class="D" transform="matrix(.3145 0 0 .041 0 105.5)">D</text>
<text class="K" transform="matrix(.3145 0 0 .041 18.9 105.5)">K</text>
<text class="L" transform="matrix(.3145 0 0 .041 37.9 105.5)">L</text>
<text class="I" transform="matrix(.3145 0 0 .041 56.8 105.5)">I</text>
<text class="A" transform="matrix(.3145 0 0 .041 75.7 105.5)">A</text>
<text class="T" transform="matrix(.3145 0 0 .041 94.7 105.5)">T</text>
</g>
</g>
</g>
<g id="block2">
<g id="r2-0"><text class="nm red" x="133" y="1030">KCOM 1083</text><use href="#R2" x="359" y="1003"/></g>
<g id="r2-1"><text class="nm red" x="133" y="1067.7">KCOM 1161</text><use href="#R2" x="359" y="1040.7"/></g>
<g id="r2-2"><text class="nm red" x="133" y="1105.3">KCOM 1162</text><use href="#R2" x="359" y="1078.3"/></g>
<g id="r2-3"><text class="nm red" x="133" y="1143">KCOM 5291</text><use href="#R2" x="359" y="1116"/></g>
<g id="r2-4"><text class="nm red" x="133" y="1180.7">KCOM 5292</text><use href="#R2" x="359" y="1153.7"/></g>
<g id="r2-5"><text class="nm red" x="133" y="1218.3">NCCP 14623</text><use href="#R2" x="359" y="1191.3"/></g>
<g id="r2-6"><text class="nm red" x="133" y="1256">NCCP 14673</text><use href="#R2" x="359" y="1229"/></g>
<g id="r2-7"><text class="nm blu" x="133" y="1293.7">KCOM 2816</text><use href="#R2" x="359" y="1266.7"/></g>
<g id="r2-8"><text class="nm blu" x="133" y="1331.3">KCOM 2823</text><use href="#R2" x="359" y="1304.3"/></g>
<g id="r2-9"><text class="nm blu" x="133" y="1369">KACC 11304</text><use href="#X2" x="359" y="1342"/></g>
<g id="r2-10"><text class="nm blu" x="133" y="1406.7">KCOM 16130</text><use href="#Y2" x="359" y="1379.7"/></g>
<g id="r2-11"><text class="nm blu" x="133" y="1444.3">KCOM 16132</text><use href="#R2" x="359" y="1417.3"/></g>
<g id="r2-12"><text class="nm blk" x="133" y="1482">KCOM 11859</text><use href="#W2" x="359" y="1455"/></g>
<g id="r2-13"><text class="nm blk" x="133" y="1519.7">KACC 13807</text><use href="#W2" x="359" y="1492.7"/></g>
<g id="r2-14"><text class="nm blk" x="133" y="1557.3">NCCP 14624</text><use href="#Z2" x="359" y="1530.3"/></g>
<g id="r2-15"><text class="nm blk" x="133" y="1595">NCCP 15611</text><use href="#R2" x="359" y="1568"/></g>
<g id="r2-16"><text class="nm blk" x="133" y="1632.7">NCCP 16131</text><use href="#R2" x="359" y="1605.7"/></g>
</g>
</g>

<g id="panelB">
<rect x="100" y="1670" width="1220" height="980" fill="#fcfcfc"/>
<text class="pl" x="5" y="1706">B</text>
<g id="connectors">
<path class="tr" d="M1004 1696V2166M950.6 1929H1004M950.6 1929V2243.5M633 2088H950.6M950.6 2243.5H963.8M963.8 2218.6V2268.4M633 2088V2347.5M135 2216.7H633M633 2347.5H963.8M963.8 2321V2374M135 2216.7V2464.6M135 2464.6H189.5M189.5 2426V2505M189.5 2426H767.7M189.5 2505H561.5M561.5 2478V2530M561.5 2478H1006.6M561.5 2530H958"/>
</g>
<g id="bootstrap">
<text class="bs" x="978" y="1919">98</text>
<text class="bs" x="917.5" y="2075">100</text>
<text class="bs" x="937.5" y="2274">98</text>
<text class="bs" x="602.5" y="2206">100</text>
<text class="bs" x="931" y="2379">100</text>
<text class="bs" x="530" y="2536">100</text>
</g>
<g id="leaves" class="tn">
<g id="t-KCOM1083"><text class="red" x="1038" y="1719.7">KCOM 1083</text></g>
<g id="t-KCOM1161"><text class="red" x="1038" y="1769.4">KCOM 1161</text></g>
<g id="t-KCOM1162"><text class="red" x="1038" y="1819.2">KCOM 1162</text></g>
<g id="t-KCOM5291"><text class="red" x="1038" y="1869">KCOM 5291</text></g>
<g id="t-KCOM5292"><text class="red" x="1038" y="1918.9">KCOM 5292</text></g>
<g id="t-NCCP14623"><text class="red" x="1038" y="1968.7">NCCP 14623</text></g>
<g id="t-NCCP14673"><text class="red" x="1038" y="2018.5">NCCP 14673</text></g>
<g id="t-NCCP15611"><text class="blk" x="1038" y="2068.3">NCCP 15611</text></g>
<g id="t-NCCP16131"><text class="blk" x="1038" y="2118.1">NCCP 16131</text></g>
<g id="t-NCCP16132"><text class="blu" x="1038" y="2167.9">NCCP 16132</text></g>
<g id="t-KCOM2816"><text class="blu" x="999" y="2235.2">KCOM 2816</text></g>
<g id="t-KCOM2823"><text class="blu" x="999" y="2286.2">KCOM 2823</text></g>
<g id="t-KACC11859"><text class="blk" x="999" y="2339.2">KACC 11859</text></g>
<g id="t-KACC13807"><text class="blk" x="999" y="2388.7">KACC 13807</text></g>
<g id="t-KACC11304"><text class="blu" x="799" y="2441.7">KACC 11304</text></g>
<g id="t-KACC14624"><text class="blk" x="1045.5" y="2493.7">KACC 14624</text></g>
<g id="t-NCCP16130"><text class="blu" x="995" y="2547.7">NCCP 16130</text></g>
</g>
<g id="scalebar">
<path class="tr" d="M244 2608H411M244 2598V2617M411 2598V2617"/>
<text class="bs" x="328.5" y="2639">10</text>
</g>
</g>
</svg>
